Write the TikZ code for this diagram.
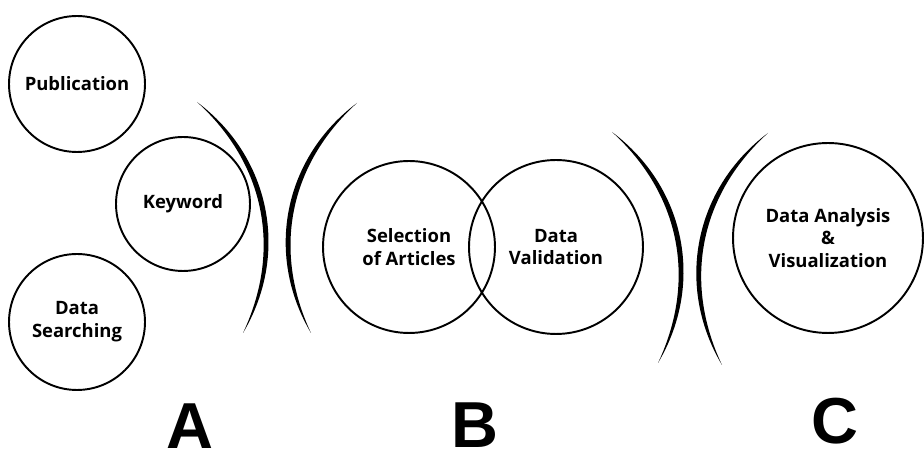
\documentclass[tikz,border=0pt]{standalone}
\usepackage{fontspec}
\usepackage{tikz}
\newfontfamily\bubblefont{Open Sans}
\newfontfamily\letterfont{Liberation Sans}

\begin{document}
\begin{tikzpicture}[x=0.02cm,y=-0.02cm]
\tikzset{bubble/.style = {circle, draw, line width=1.1pt, inner sep=0pt, align=center,
                          minimum size=#1, font=\bubblefont\bfseries\fontsize{10.5}{13}\selectfont},
         letter/.style = {inner sep=0pt, anchor=base, font=\letterfont\bfseries\fontsize{37}{40}\selectfont}}
\useasboundingbox (0,0) rectangle (924,455);
% group A
\node[bubble=2.72cm] (pub) at (77,84) {Publication};
\node[bubble=2.68cm] (key) at (183,204) {Keyword};
\node[bubble=2.72cm] (search) at (77,322) {Data\\Searching};
% group B
\node[bubble=3.44cm] (sel) at (409,247) {Selection\\of Articles};
\node[bubble=3.48cm] (valid) at (556,247) {Data\\Validation};
% group C
\node[bubble=3.8cm] (analysis) at (828,238) {Data Analysis\\\&\\Visualization};
% brackets
\coordinate (b1t) at (197,102); \coordinate (b1b) at (243,333);
\coordinate (b2t) at (357,103); \coordinate (b2b) at (311,333);
\coordinate (b3t) at (612,132); \coordinate (b3b) at (658,363);
\coordinate (b4t) at (768,133); \coordinate (b4b) at (722,365);
\fill (b1t) to[bend left=42] (b1b) to[bend right=36.5] (b1t);
\fill (b2t) to[bend right=42] (b2b) to[bend left=36.5] (b2t);
\fill (b3t) to[bend left=42] (b3b) to[bend right=36.5] (b3t);
\fill (b4t) to[bend right=42] (b4b) to[bend left=36.5] (b4t);
% labels
\node[letter] (la) at (190,449) {A};
\node[letter] (lb) at (475,448) {B};
\node[letter] (lc) at (835,444) {C};
\end{tikzpicture}
\end{document}
